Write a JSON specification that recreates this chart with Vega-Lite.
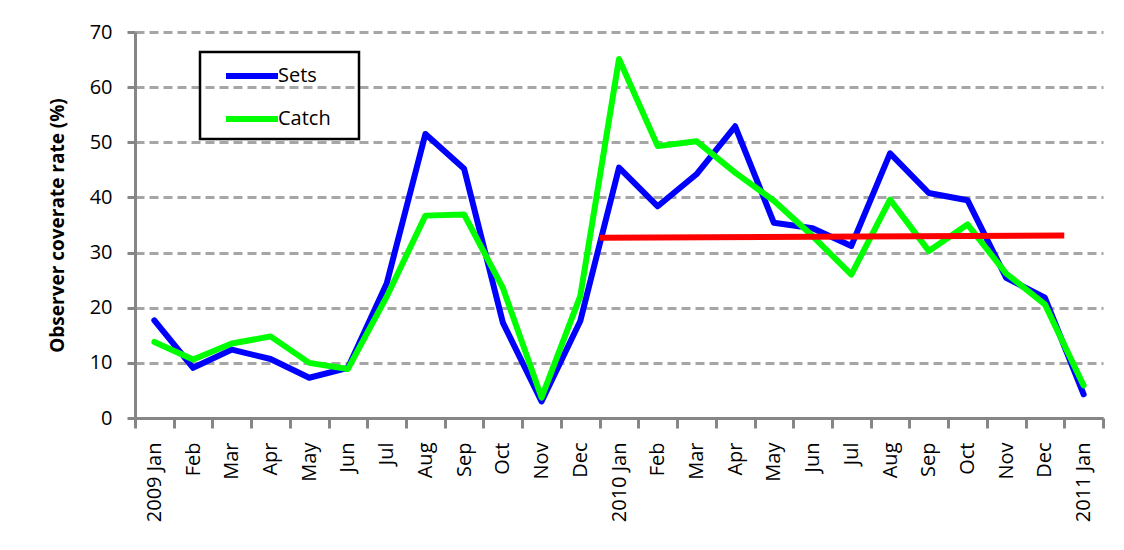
{
  "$schema": "https://vega.github.io/schema/vega-lite/v6.json",
  "width": 968,
  "height": 386,
  "autosize": {"type": "none"},
  "padding": {"left": 135, "top": 32, "right": 21, "bottom": 132},
  "background": "white",
  "config": {
    "font": "Open Sans",
    "view": {"stroke": null},
    "legend": {"strokeWidth": 2.5},
    "axis": {
      "domainColor": "#868686",
      "domainWidth": 3,
      "tickColor": "#868686",
      "tickWidth": 3,
      "labelColor": "#000000",
      "labelFont": "Open Sans",
      "titleFont": "Open Sans",
      "titleColor": "#000000"
    }
  },
  "datasets": {
    "coverage": [
      {"month": "2009-01", "Sets": 17.7, "Catch": 13.8},
      {"month": "2009-02", "Sets": 9.1, "Catch": 10.6},
      {"month": "2009-03", "Sets": 12.4, "Catch": 13.5},
      {"month": "2009-04", "Sets": 10.7, "Catch": 14.8},
      {"month": "2009-05", "Sets": 7.3, "Catch": 10.0},
      {"month": "2009-06", "Sets": 9.1, "Catch": 8.9},
      {"month": "2009-07", "Sets": 24.4, "Catch": 22.0},
      {"month": "2009-08", "Sets": 51.5, "Catch": 36.7},
      {"month": "2009-09", "Sets": 45.2, "Catch": 36.9},
      {"month": "2009-10", "Sets": 17.3, "Catch": 23.6},
      {"month": "2009-11", "Sets": 3.0, "Catch": 3.7},
      {"month": "2009-12", "Sets": 17.6, "Catch": 22.1},
      {"month": "2010-01", "Sets": 45.4, "Catch": 65.1},
      {"month": "2010-02", "Sets": 38.4, "Catch": 49.3},
      {"month": "2010-03", "Sets": 44.2, "Catch": 50.2},
      {"month": "2010-04", "Sets": 52.9, "Catch": 44.5},
      {"month": "2010-05", "Sets": 35.4, "Catch": 39.4},
      {"month": "2010-06", "Sets": 34.4, "Catch": 33.0},
      {"month": "2010-07", "Sets": 31.2, "Catch": 26.0},
      {"month": "2010-08", "Sets": 48.0, "Catch": 39.6},
      {"month": "2010-09", "Sets": 40.8, "Catch": 30.3},
      {"month": "2010-10", "Sets": 39.5, "Catch": 35.1},
      {"month": "2010-11", "Sets": 25.4, "Catch": 26.2},
      {"month": "2010-12", "Sets": 21.8, "Catch": 20.6},
      {"month": "2011-01", "Sets": 4.3, "Catch": 5.9}
    ],
    "trend": [
      {"month": "2010-01", "trend": 32.7},
      {"month": "2011-01", "trend": 33.1}
    ]
  },
  "encoding": {
    "x": {
      "field": "month",
      "type": "ordinal",
      "title": null,
      "scale": {
        "type": "band",
        "paddingInner": 0,
        "paddingOuter": 0,
        "domain": ["2009-01","2009-02","2009-03","2009-04","2009-05","2009-06","2009-07","2009-08","2009-09","2009-10","2009-11","2009-12","2010-01","2010-02","2010-03","2010-04","2010-05","2010-06","2010-07","2010-08","2010-09","2010-10","2010-11","2010-12","2011-01"]
      },
      "axis": {
        "tickBand": "extent",
        "tickSize": 10,
        "labelAngle": -90,
        "labelFontSize": 20,
        "labelPadding": 14,
        "grid": false,
        "labelExpr": "isValid(datum.value) && length(datum.value) == 7 ? ((substring(datum.value,5,7)=='01' ? substring(datum.value,0,4)+' ' : '') + ['Jan','Feb','Mar','Apr','May','Jun','Jul','Aug','Sep','Oct','Nov','Dec'][toNumber(substring(datum.value,5,7))-1]) : ''"
      }
    }
  },
  "layer": [
    {
      "data": {"name": "coverage"},
      "mark": {"type": "line", "strokeWidth": 6, "strokeCap": "round", "strokeJoin": "round"},
      "encoding": {
        "y": {
          "field": "Sets",
          "type": "quantitative",
          "title": "Observer coverate rate (%)",
          "scale": {"domain": [0, 70], "nice": false},
          "axis": {
            "values": [0, 10, 20, 30, 40, 50, 60, 70],
            "tickSize": 8,
            "labelFontSize": 20,
            "labelPadding": 15,
            "titleFontSize": 19,
            "titleFontWeight": "bold",
            "titlePadding": 22,
            "grid": true,
            "gridColor": "#A6A6A6",
            "gridDash": [9, 5],
            "gridWidth": 3
          }
        },
        "color": {
          "datum": "Sets",
          "scale": {"domain": ["Sets", "Catch"], "range": ["#0000ff", "#00ff00"]},
          "legend": {
            "title": null,
            "orient": "none",
            "legendX": 65,
            "legendY": 20,
            "symbolType": "M-2,0H2M6.62,0",
            "symbolSize": 676,
            "symbolOffset": 28,
            "symbolStrokeWidth": 6,
            "labelFontSize": 20,
            "labelFont": "Open Sans",
            "labelColor": "#000000",
            "strokeColor": "#000000",
            "padding": 8,
            "rowPadding": 15,
            "labelOffset": 10
          }
        }
      }
    },
    {
      "data": {"name": "coverage"},
      "mark": {"type": "line", "strokeWidth": 6, "strokeCap": "round", "strokeJoin": "round"},
      "encoding": {
        "y": {"field": "Catch", "type": "quantitative", "title": "Observer coverate rate (%)"},
        "color": {"datum": "Catch"}
      }
    },
    {
      "data": {"name": "trend"},
      "mark": {"type": "line", "strokeWidth": 6, "color": "#ff0000", "strokeCap": "butt"},
      "encoding": {
        "x": {
          "field": "month",
          "type": "ordinal",
          "bandPosition": 0,
          "title": null
        },
        "y": {"field": "trend", "type": "quantitative", "title": "Observer coverate rate (%)"}
      }
    }
  ]
}
